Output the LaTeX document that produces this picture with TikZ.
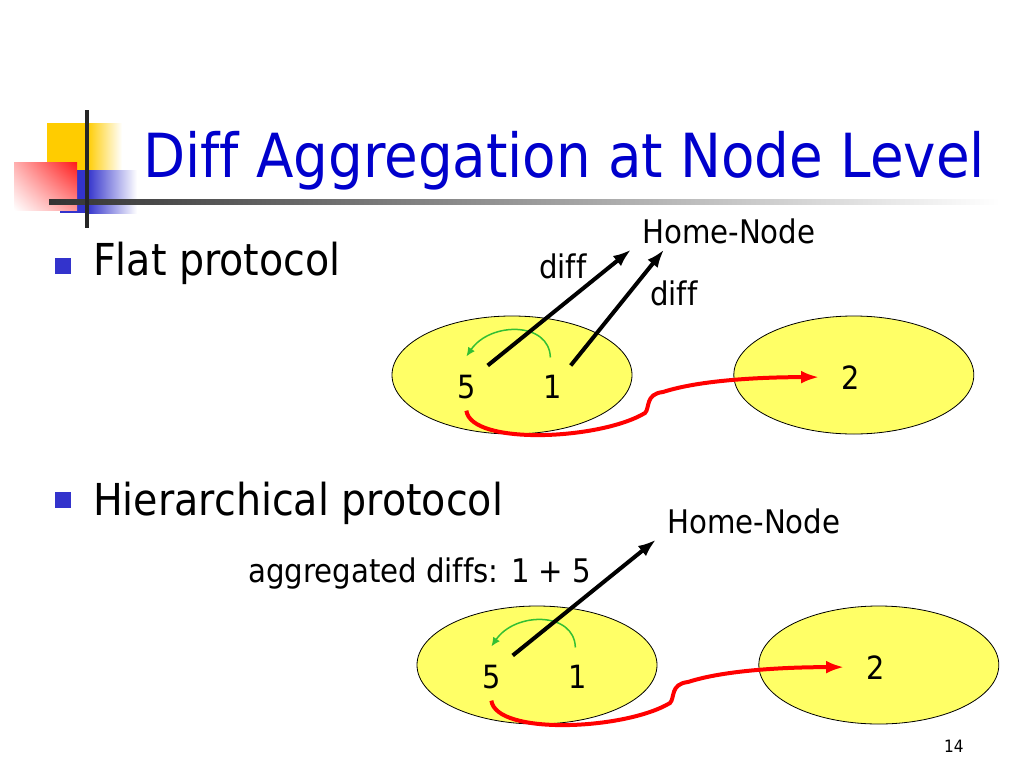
\documentclass[tikz,border=0pt]{standalone}
\usepackage{fontspec}
\setmainfont[Ligatures=NoCommon]{DejaVu Sans Condensed}
\usepackage{tikz}
\usetikzlibrary{positioning,shapes.geometric,arrows.meta,shadings}
\definecolor{titleclr}{rgb}{0, 0, 0.8}
\definecolor{bulletclr}{rgb}{0.2, 0.2, 0.8}
\definecolor{nodeclr}{rgb}{1, 1, 0.4}
\definecolor{sendclr}{rgb}{1, 0, 0}
\definecolor{mergeclr}{rgb}{0.2, 0.75, 0.2}
\definecolor{logoylw}{rgb}{1, 0.8, 0}
\definecolor{logored}{rgb}{1, 0.1, 0.1}
\definecolor{logoblu}{rgb}{0.2, 0.2, 0.8}
\tikzset{ %
  ,>={Latex[length=18pt, width=13pt]}
  ,cluster/.style={draw, ellipse, inner sep=0, minimum width=240pt, minimum height=118pt, fill=nodeclr, line width=0.8pt, node distance=101pt}
  ,proc/.style={inner sep=0, anchor=base west, font=\fontsize{32}{36}\selectfont}
  ,lbl/.style={inner sep=0, anchor=base west, font=\fontsize{32.5}{36}\selectfont}
  ,item/.style={inner sep=0, anchor=base west, font=\fontsize{44}{50}\selectfont}
  ,heading/.style={inner sep=0, anchor=base west, text=titleclr, font=\fontsize{60.8}{70}\selectfont}
  ,bullet/.style={fill=bulletclr, minimum size=16pt, inner sep=0}
  ,diffarrow/.style={line width=4pt, ->}
  ,sendarrow/.style={sendclr, line width=4pt, ->}
  ,mergearrow/.style={mergeclr, line width=1.5pt, -{Latex[length=9pt, width=8pt]}}
}

\begin{document}
\begin{tikzpicture}[x=1pt, y=-1pt]
  \fill[white] (0,0) rectangle (1024,768);
  \useasboundingbox (0,0) rectangle (1024,768);
  % logo
  \fill[logoylw] (47,123) rectangle (87,170);
  \shade[left color=logoylw, right color=white] (87,123) rectangle (122,170);
  \fill[logoblu] (60,170) rectangle (87,213);
  \shade[left color=logoblu, right color=white] (87,170) rectangle (137,213);
  \shade[upper right=logored, upper left=logored!35, lower right=logored!45, lower left=white] (14,162) rectangle (77,210);
  \shade[left color=black!80, right color=white] (49,199) rectangle (1000,204);
  \draw[line width=4pt, black!85] (87,110) -- (87,228);

  \node[heading] (ttl) at (143,177) {Diff Aggregation at Node Level};
  \node[bullet] (b1) at (63,266) {};
  \node[item] (flat) at (93,275) {Flat protocol};
  \node[bullet] (b2) at (63,500) {};
  \node[item] (hier) at (93,515) {Hierarchical protocol};
  \node[inner sep=0, anchor=base west, font=\fontsize{17}{20}\selectfont] (pg) at (944,752) {14};

  % flat protocol
  \draw
  node[cluster] (fa) at (512,375) {}
  node[cluster, right=of fa] (fb) {}
  node[proc] (f5) at (457,398) {5}
  node[proc] (f1) at (543,398) {1}
  node[proc] (f2) at (841,389) {2}
  node[lbl] (fhome) at (642,243) {Home-Node}
  node[lbl] (fd5) at (539,278) {diff}
  node[lbl] (fd1) at (650,305) {diff};
  \draw[mergearrow] ([shift={(-2pt,17pt)}]f1.north) .. controls +(-1,-36) and +(24,-35) .. ([yshift=18pt]f5.north);
  \draw[diffarrow] ([shift={(12pt,9pt)}]f5.north east) -- ([shift={(-11pt,-6pt)}]fhome.south west);
  \draw[diffarrow] ([shift={(9pt,9pt)}]f1.north east) -- ([shift={(22pt,-6pt)}]fhome.south west);
  \draw[sendarrow] ([yshift=-12pt]f5.south) .. controls +(5,35) and +(-45,27) .. (645,413)
    .. controls +(5,-5) and +(-18,2) .. (663,392)
    .. controls +(37,-12) and +(-58,0) .. ([xshift=-22pt]f2.west);

  % hierarchical protocol
  \begin{scope}[shift={(25,290)}]
  \draw
  node[cluster] (ha) at (512,375) {}
  node[cluster, right=of ha] (hb) {}
  node[proc] (h5) at (457,398) {5}
  node[proc] (h1) at (543,398) {1}
  node[proc] (h2) at (841,389) {2}
  node[lbl] (hhome) at (642,243) {Home-Node}
  node[lbl] (hsum) at (223,292) {aggregated diffs: 1 + 5};
  \draw[mergearrow] ([shift={(-2pt,17pt)}]h1.north) .. controls +(-1,-36) and +(24,-35) .. ([yshift=18pt]h5.north);
  \draw[diffarrow] ([shift={(12pt,9pt)}]h5.north east) -- ([shift={(-11pt,-6pt)}]hhome.south west);
  \draw[sendarrow] ([yshift=-12pt]h5.south) .. controls +(5,35) and +(-45,27) .. (645,413)
    .. controls +(5,-5) and +(-18,2) .. (663,392)
    .. controls +(37,-12) and +(-58,0) .. ([xshift=-22pt]h2.west);
  \end{scope}
\end{tikzpicture}
\end{document}
